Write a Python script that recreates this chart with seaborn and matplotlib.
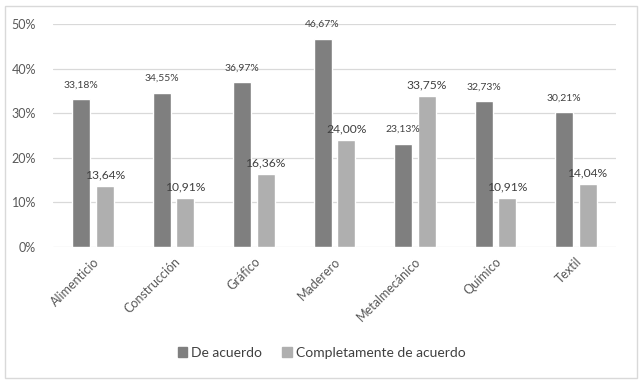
import matplotlib.pyplot as plt
import matplotlib.patches as patches
import pandas as pd
import seaborn as sns

sectores = ['Alimenticio', 'Construcción', 'Gráfico', 'Maderero', 'Metalmecánico', 'Químico', 'Textil']
de_acuerdo = [33.18, 34.55, 36.97, 46.67, 23.13, 32.73, 30.21]
completamente = [13.64, 10.91, 16.36, 24.00, 33.75, 10.91, 14.04]
series = ['De acuerdo', 'Completamente de acuerdo']
colores = ['#7f7f7f', '#afafaf']

df = pd.DataFrame({
    'Sector': sectores * 2,
    'Serie': [series[0]] * len(sectores) + [series[1]] * len(sectores),
    'Valor': [v / 100 for v in de_acuerdo + completamente],
})

sns.set_style('white')
plt.rcParams['font.family'] = ['Lato', 'DejaVu Sans']

fig = plt.figure(figsize=(6.43, 3.86), dpi=100)
ax = fig.add_axes([0.082, 0.36, 0.876, 0.578])

sns.barplot(data=df, x='Sector', y='Valor', hue='Serie', palette=colores,
            width=0.585, gap=0.235, ax=ax, saturation=1, legend=False)

ax.set_ylim(0, 0.5)
ax.set_yticks([0, 0.1, 0.2, 0.3, 0.4, 0.5])
ax.set_yticklabels(['0%', '10%', '20%', '30%', '40%', '50%'])
ax.yaxis.grid(True, color='#d9d9d9', linewidth=0.9)
ax.set_axisbelow(True)
for s in ax.spines.values():
    s.set_visible(False)
ax.set_xlabel('')
ax.set_ylabel('')
ax.tick_params(axis='both', length=0, colors='#595959', labelsize=9)
ax.tick_params(axis='y', pad=12)
ax.tick_params(axis='x', pad=6)
plt.setp(ax.get_xticklabels(), rotation=45, ha='right', rotation_mode='anchor')

fmt = lambda v: f'{v:.2f}'.replace('.', ',') + '%'
ax.bar_label(ax.containers[0], labels=[fmt(v) for v in de_acuerdo],
             padding=7, fontsize=7.5, color='#404040')
ax.bar_label(ax.containers[1], labels=[fmt(v) for v in completamente],
             padding=4, fontsize=8.7, color='#404040')

handles = [patches.Patch(color=c) for c in colores]
fig.legend(handles, series, loc='center', bbox_to_anchor=(0.5, 0.085), ncol=2,
           frameon=False, handlelength=0.7, handleheight=0.7, handletextpad=0.3,
           columnspacing=1.4, fontsize=10, labelcolor='#404040')

fig.patches.append(patches.Rectangle((0.008, 0.02), 0.983, 0.965, transform=fig.transFigure,
                                     fill=False, edgecolor='#d9d9d9', linewidth=1))

fig.savefig('out.png', dpi=100)
